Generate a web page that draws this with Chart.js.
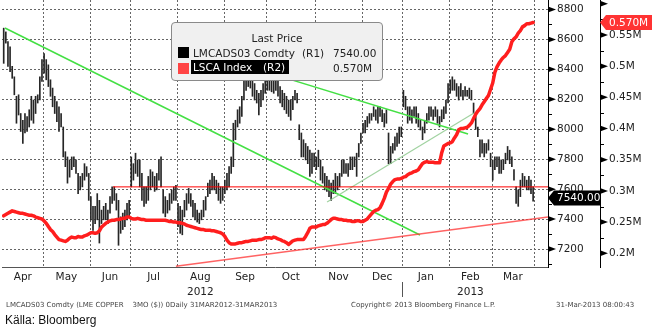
<!DOCTYPE html>
<html>
<head>
<meta charset="utf-8">
<script src="https://cdn.jsdelivr.net/npm/chart.js@4.4.1/dist/chart.umd.min.js"></script>
<style>
  body { margin: 0; background: #fff; }
  #wrap { position: relative; width: 654px; height: 328px; overflow: hidden; font-family: "DejaVu Sans", sans-serif; }
  #copper { position: absolute; left: 0; top: 0; }
  #key { position: absolute; left: 171px; top: 22px; width: 212px; height: 59px; box-sizing: border-box;
         background: #f0f0f0; border: 1px solid #8a8a8a; border-radius: 4px; font-size: 10.5px; color: #222; }
  #key span, #key div { position: absolute; line-height: 14px; white-space: pre; }
  #key .hd { left: 0; right: 0; top: 8px; text-align: center; }
  #key .sq { width: 11px; height: 11px; left: 6px; }
  #key .hl { left: 19px; top: 37px; width: 98px; height: 14px; background: #000; color: #fff; }
  .foot { position: absolute; top: 301px; font-size: 7px; color: #444; white-space: pre; }
  #src { position: absolute; left: 5px; top: 313px; font: 12px "Liberation Sans", sans-serif; color: #111; }
</style>
</head>
<body>
<div id="wrap">
  <canvas id="copper" width="654" height="328"></canvas>
  <div id="key">
    <div class="hd">Last Price</div>
    <div class="sq" style="top:24px;background:#000"></div>
    <span style="left:21px;top:23px">LMCADS03 Comdty</span>
    <span style="left:130px;top:23px">(R1)</span>
    <span style="left:161px;top:23px">7540.00</span>
    <div class="sq" style="top:40px;background:#ff4444"></div>
    <div class="hl"><span style="left:2px;top:0">LSCA Index</span><span style="left:72px;top:0">(R2)</span></div>
    <span style="left:161px;top:38px">0.570M</span>
  </div>
  <div class="foot" style="left:6px">LMCADS03 Comdty (LME COPPER    3MO ($)) 0Daily 31MAR2012-31MAR2013</div>
  <div class="foot" style="left:351px">Copyright© 2013 Bloomberg Finance L.P.</div>
  <div class="foot" style="left:556px">31-Mar-2013 08:00:43</div>
  <div id="src">Källa: Bloomberg</div>
</div>
<script>
// months on the axis and the trading-day index where each one starts (last entry = end of data)
const months = ['Apr', 'May', 'Jun', 'Jul', 'Aug', 'Sep', 'Oct', 'Nov', 'Dec', 'Jan', 'Feb', 'Mar'];
const years = ['', '', '', '', '2012', '', '', '', '', '', '2013', ''];
const monthStarts = [0, 19, 41, 60, 82, 104, 124, 147, 169, 188, 210, 230, 250];

// LME copper 3M, daily high / low (USD/t)
const copperHigh = [
  8675, 8650, 8585, 8550, 8420, 8350, 8220, 8230, 8105, 8060,
  8105, 8085, 8130, 8220, 8195, 8220, 8230, 8350, 8465, 8505,
  8465, 8430, 8330, 8275, 8220, 8185, 8150, 8105, 8015, 7850,
  7815, 7795, 7815, 7815, 7795, 7705, 7685, 7705, 7770, 7750,
  7705, 7550, 7485, 7485, 7570, 7525, 7460, 7485, 7505, 7460,
  7550, 7615, 7615, 7570, 7525, 7415, 7440, 7460, 7505, 7525,
  7815, 7770, 7840, 7795, 7795, 7705, 7615, 7615, 7685, 7730,
  7715, 7685, 7705, 7795, 7815, 7595, 7550, 7525, 7570, 7595,
  7615, 7625, 7505, 7485, 7460, 7525, 7570, 7605, 7570, 7525,
  7505, 7460, 7440, 7460, 7525, 7550, 7640, 7660, 7705, 7685,
  7660, 7640, 7615, 7615, 7660, 7705, 7750, 7815, 8040, 8060,
  8130, 8150, 8220, 8350, 8395, 8385, 8375, 8330, 8305, 8260,
  8240, 8260, 8305, 8330, 8350, 8330, 8340, 8330, 8350, 8330,
  8285, 8260, 8240, 8220, 8195, 8195, 8220, 8260, 8240, 8030,
  7975, 7930, 7905, 7885, 7860, 7840, 7840, 7815, 7860, 7795,
  7750, 7705, 7685, 7660, 7640, 7660, 7705, 7685, 7705, 7795,
  7795, 7770, 7770, 7815, 7815, 7815, 7840, 7905, 7975, 8040,
  8060, 8085, 8105, 8105, 8150, 8130, 8150, 8150, 8130, 8105,
  8130, 7975, 7885, 7905, 7950, 7975, 8015, 8015, 8260, 8220,
  8150, 8150, 8130, 8150, 8150, 8105, 8060, 8015, 8060, 8105,
  8150, 8150, 8130, 8150, 8130, 8085, 8130, 8150, 8195, 8305,
  8330, 8350, 8330, 8305, 8285, 8305, 8260, 8285, 8260, 8275,
  8260, 8175, 8085, 8015, 7930, 7930, 7905, 7905, 7930, 7840,
  7795, 7815, 7815, 7815, 7795, 7795, 7840, 7885, 7860, 7815,
  7730, 7615, 7595, 7660, 7705, 7685, 7660, 7685, 7660, 7615
];
const copperLow = [
  8440, 8575, 8420, 8385, 8340, 8230, 8040, 8095, 7985, 7905,
  7975, 7985, 8015, 8060, 8040, 8105, 8175, 8195, 8320, 8375,
  8330, 8285, 8220, 8150, 8105, 8050, 7985, 8015, 7815, 7750,
  7640, 7680, 7730, 7750, 7705, 7570, 7595, 7615, 7660, 7685,
  7525, 7395, 7325, 7370, 7395, 7240, 7370, 7395, 7395, 7370,
  7440, 7505, 7525, 7460, 7225, 7305, 7330, 7350, 7395, 7415,
  7615, 7660, 7705, 7685, 7615, 7525, 7485, 7505, 7525, 7595,
  7615, 7585, 7595, 7660, 7615, 7440, 7415, 7440, 7460, 7505,
  7525, 7525, 7350, 7305, 7295, 7415, 7460, 7505, 7485, 7415,
  7395, 7380, 7370, 7395, 7415, 7460, 7550, 7570, 7595, 7595,
  7570, 7525, 7505, 7525, 7570, 7595, 7615, 7705, 7750, 7930,
  8015, 8040, 8085, 8195, 8260, 8285, 8275, 8220, 8195, 8175,
  8095, 8150, 8195, 8240, 8260, 8260, 8250, 8240, 8260, 8220,
  8175, 8150, 8130, 8105, 8085, 8060, 8130, 8195, 8175, 7930,
  7815, 7815, 7795, 7770, 7685, 7705, 7750, 7730, 7750, 7660,
  7640, 7595, 7585, 7550, 7525, 7570, 7570, 7595, 7615, 7685,
  7705, 7705, 7685, 7730, 7730, 7750, 7685, 7815, 7905, 7975,
  7975, 8015, 8040, 8060, 8085, 8060, 8040, 8085, 8050, 8015,
  8040, 7770, 7770, 7840, 7860, 7885, 7905, 7950, 8150, 8130,
  8040, 8060, 8040, 8085, 8040, 8015, 7995, 7930, 7975, 8040,
  8060, 8085, 8060, 8085, 8040, 8015, 8050, 8070, 8105, 8175,
  8240, 8260, 8260, 8220, 8195, 8220, 8195, 8220, 8220, 8205,
  8195, 8105, 8000, 7950, 7815, 7840, 7815, 7840, 7860, 7750,
  7660, 7730, 7750, 7705, 7705, 7730, 7770, 7795, 7770, 7750,
  7660, 7505, 7485, 7550, 7615, 7615, 7595, 7595, 7570, 7520
];
const copperLast = 7540;

// LME copper stocks, LSCA Index (million tonnes)
const lsca = [
  0.260, 0.262, 0.264, 0.266, 0.268, 0.267, 0.266, 0.265, 0.264, 0.264,
  0.263, 0.262, 0.261, 0.261, 0.260, 0.258, 0.257, 0.256, 0.255, 0.252,
  0.248, 0.243, 0.238, 0.235, 0.230, 0.226, 0.222, 0.221, 0.220, 0.219,
  0.221, 0.224, 0.226, 0.225, 0.225, 0.227, 0.226, 0.226, 0.228, 0.229,
  0.231, 0.233, 0.233, 0.232, 0.233, 0.236, 0.242, 0.245, 0.248, 0.250,
  0.252, 0.253, 0.253, 0.254, 0.254, 0.255, 0.256, 0.256, 0.258, 0.258,
  0.256, 0.255, 0.255, 0.256, 0.255, 0.254, 0.254, 0.253, 0.253, 0.253,
  0.253, 0.253, 0.253, 0.253, 0.253, 0.253, 0.253, 0.252, 0.251, 0.251,
  0.250, 0.250, 0.249, 0.249, 0.248, 0.247, 0.245, 0.244, 0.243, 0.242,
  0.241, 0.240, 0.239, 0.238, 0.238, 0.237, 0.237, 0.237, 0.236, 0.236,
  0.235, 0.234, 0.233, 0.231, 0.227, 0.221, 0.217, 0.215, 0.215, 0.215,
  0.216, 0.217, 0.217, 0.218, 0.219, 0.219, 0.220, 0.221, 0.221, 0.221,
  0.222, 0.222, 0.223, 0.225, 0.225, 0.225, 0.224, 0.226, 0.225, 0.223,
  0.222, 0.220, 0.219, 0.217, 0.214, 0.217, 0.220, 0.221, 0.222, 0.222,
  0.222, 0.222, 0.227, 0.233, 0.240, 0.242, 0.242, 0.242, 0.244, 0.245,
  0.246, 0.246, 0.248, 0.251, 0.254, 0.256, 0.256, 0.255, 0.254, 0.254,
  0.253, 0.253, 0.252, 0.252, 0.251, 0.251, 0.252, 0.252, 0.251, 0.251,
  0.253, 0.255, 0.259, 0.263, 0.267, 0.269, 0.270, 0.273, 0.280, 0.288,
  0.298, 0.304, 0.311, 0.315, 0.318, 0.319, 0.319, 0.320, 0.322, 0.323,
  0.326, 0.328, 0.329, 0.331, 0.332, 0.334, 0.339, 0.344, 0.346, 0.347,
  0.346, 0.346, 0.346, 0.345, 0.345, 0.345, 0.361, 0.372, 0.374, 0.376,
  0.377, 0.379, 0.385, 0.390, 0.398, 0.400, 0.400, 0.401, 0.402, 0.405,
  0.409, 0.416, 0.423, 0.428, 0.432, 0.438, 0.443, 0.448, 0.453, 0.463,
  0.473, 0.490, 0.499, 0.505, 0.510, 0.514, 0.517, 0.522, 0.527, 0.539,
  0.544, 0.547, 0.553, 0.557, 0.563, 0.565, 0.568, 0.568, 0.569, 0.570
];

// axis ticks
const r1Ticks = [7200, 7400, 7600, 7800, 8000, 8200, 8400, 8600, 8800];
const r2Ticks = [0.2, 0.25, 0.3, 0.35, 0.4, 0.45, 0.5, 0.55, 0.6];

// hand-drawn trend lines (trading-day index, price)
const downTrend = [{ x: 0.6, y: 8676 }, { x: 195.8, y: 7294 }];
const upperTrend = [{ x: 114, y: 8423 }, { x: 218.4, y: 7968 }];
const supportUp = [{ x: 152.1, y: 7514 }, { x: 221.2, y: 8109 }];
const priceLevel = [{ x: 51.4, y: 7615 }, { x: 256, y: 7615 }];
const longTrend = [{ x: 81, y: 7085 }, { x: 256, y: 7414 }];

const textColor = '#222';
const tickFont = { family: 'DejaVu Sans', size: 10.5 };

// dotted grid: month boundaries and the price ticks, 2px dots every 4px
function drawGrid(chart) {
  const { ctx, chartArea: a, scales } = chart;
  const xs = scales.x, ys = scales.y;
  ctx.save();
  ctx.fillStyle = '#666';
  xs.ticks.forEach(t => {
    const px = Math.round(xs.getPixelForValue(t.value));
    for (let py = Math.ceil(a.top); py < a.bottom; py += 4) ctx.fillRect(px, py, 1, 2);
  });
  ys.ticks.forEach(t => {
    const py = Math.round(ys.getPixelForValue(t.value));
    for (let px = Math.ceil(a.left); px < a.right; px += 4) ctx.fillRect(px, py, 2, 1);
  });
  ctx.restore();
}

// grid, arrow marks on the right axes (small ticks halfway between), year divider, value flags
const axisMarks = {
  id: 'axisMarks',
  beforeDatasetsDraw(chart) {
    drawGrid(chart);
  },
  afterDraw(chart) {
    const ctx = chart.ctx;
    ctx.save();
    ctx.fillStyle = '#000';
    ctx.strokeStyle = '#000';
    ctx.lineWidth = 1;
    [['y', r1Ticks], ['y2', r2Ticks]].forEach(([id, list]) => {
      const s = chart.scales[id];
      const step = list[1] - list[0];
      const minors = list.map(v => v - step / 2).concat([list[list.length - 1] + step / 2]);
      list.forEach(v => {
        const py = s.getPixelForValue(v);
        ctx.beginPath();
        ctx.moveTo(s.left, py - 3);
        ctx.lineTo(s.left + 8, py);
        ctx.lineTo(s.left, py + 3);
        ctx.closePath();
        ctx.fill();
      });
      minors.forEach(v => {
        if (v < s.min || v > s.max) return;
        const py = Math.round(s.getPixelForValue(v)) + 0.5;
        ctx.beginPath();
        ctx.moveTo(s.left, py);
        ctx.lineTo(s.left + 4, py);
        ctx.stroke();
      });
    });

    // year divider under the month labels
    const x = chart.scales.x;
    const px = Math.round(x.getPixelForValue(monthStarts[9] - 0.5)) + 0.5;
    ctx.strokeStyle = '#555';
    ctx.beginPath();
    ctx.moveTo(px, chart.chartArea.bottom + 15);
    ctx.lineTo(px, chart.chartArea.bottom + 30);
    ctx.stroke();

    // last value flags
    const flag = (left, right, py, text, bg) => {
      ctx.fillStyle = bg;
      ctx.beginPath();
      ctx.moveTo(left, py);
      ctx.lineTo(left + 6, py - 7.5);
      ctx.lineTo(right, py - 7.5);
      ctx.lineTo(right, py + 7.5);
      ctx.lineTo(left + 6, py + 7.5);
      ctx.closePath();
      ctx.fill();
      ctx.fillStyle = '#fff';
      ctx.font = '10.5px "DejaVu Sans"';
      ctx.textBaseline = 'middle';
      ctx.textAlign = 'left';
      ctx.fillText(text, left + 9, py + 0.5);
    };
    const y = chart.scales.y, y2 = chart.scales.y2;
    flag(y.left, y2.left, y.getPixelForValue(copperLast), copperLast.toFixed(2), '#000');
    const lastStock = lsca[lsca.length - 1];
    flag(y2.left, y2.left + 52, y2.getPixelForValue(lastStock), lastStock.toFixed(3) + 'M', '#ff3333');
    ctx.restore();
  }
};

const line = (data, color, width, axis) => ({
  type: 'line', data, borderColor: color, borderWidth: width, pointRadius: 0,
  xAxisID: 'x', yAxisID: axis || 'y', order: 1
});

new Chart('copper', {
  type: 'line',
  data: {
    datasets: [
      {
        type: 'bar', label: 'LMCADS03 Comdty',
        data: copperHigh.map((h, i) => ({ x: i, y: [copperLow[i], h] })),
        xAxisID: 'x', yAxisID: 'y', backgroundColor: '#262626', barThickness: 1, order: 3
      },
      line(priceLevel, '#ff0000', 1),
      line(longTrend, 'rgba(255,60,60,0.8)', 1.5),
      line(supportUp, 'rgba(150,205,150,0.9)', 1.2),
      line(downTrend, '#44e044', 1.5),
      line(upperTrend, '#44e044', 1.5),
      Object.assign(line(lsca.map((v, i) => ({ x: i, y: v })), '#ff1e1e', 3.5, 'y2'),
        { label: 'LSCA Index', borderJoinStyle: 'round', borderCapStyle: 'round', order: 0 })
    ]
  },
  options: {
    responsive: false,
    animation: false,
    events: [],
    layout: { padding: { left: 2, top: 0, right: 0, bottom: 21 } },
    plugins: { legend: { display: false }, tooltip: { enabled: false } },
    scales: {
      x: {
        type: 'linear', position: 'bottom', weight: 0, min: -0.8, max: 256, offset: false,
        afterBuildTicks: s => { s.ticks = monthStarts.slice(1).map(i => ({ value: i - 0.5 })); },
        afterFit: s => { s.height = 0; s.paddingLeft = 0; s.paddingRight = 0; },
        ticks: { display: false },
        grid: { display: false, drawTicks: false },
        border: { display: true, color: '#555' }
      },
      xl: {
        type: 'linear', position: 'bottom', weight: 1, min: -0.8, max: 256, offset: false,
        afterBuildTicks: s => {
          s.ticks = months.map((m, k) => ({ value: (monthStarts[k] + monthStarts[k + 1] - 1) / 2 }));
        },
        afterFit: s => { s.height = 40; s.paddingLeft = 0; s.paddingRight = 0; },
        ticks: {
          autoSkip: false, maxRotation: 0, padding: 3, color: textColor,
          font: Object.assign({ lineHeight: 1.4 }, tickFont),
          callback: (v, k) => years[k] ? [months[k], years[k]] : months[k]
        },
        grid: { display: false, drawTicks: false },
        border: { display: false }
      },
      y: {
        type: 'linear', position: 'right', weight: 0, min: 7080, max: 8863,
        afterBuildTicks: s => { s.ticks = r1Ticks.map(v => ({ value: v })); },
        afterFit: s => { s.width = 52; s.paddingTop = 0; s.paddingBottom = 0; },
        ticks: { padding: 9, color: textColor, font: tickFont, callback: v => String(v) },
        grid: { display: false, drawTicks: false },
        border: { display: true, color: '#000' }
      },
      y2: {
        type: 'linear', position: 'right', weight: 1, min: 0.178, max: 0.6061,
        afterBuildTicks: s => { s.ticks = r2Ticks.map(v => ({ value: v })); },
        afterFit: s => { s.width = 54; s.paddingTop = 0; s.paddingBottom = 0; },
        ticks: { padding: 9, color: textColor, font: tickFont, callback: v => v < 0.58 ? v + 'M' : '' },
        grid: { display: false, drawTicks: false },
        border: { display: true, color: '#000' }
      }
    }
  },
  plugins: [axisMarks]
});
</script>
</body>
</html>
